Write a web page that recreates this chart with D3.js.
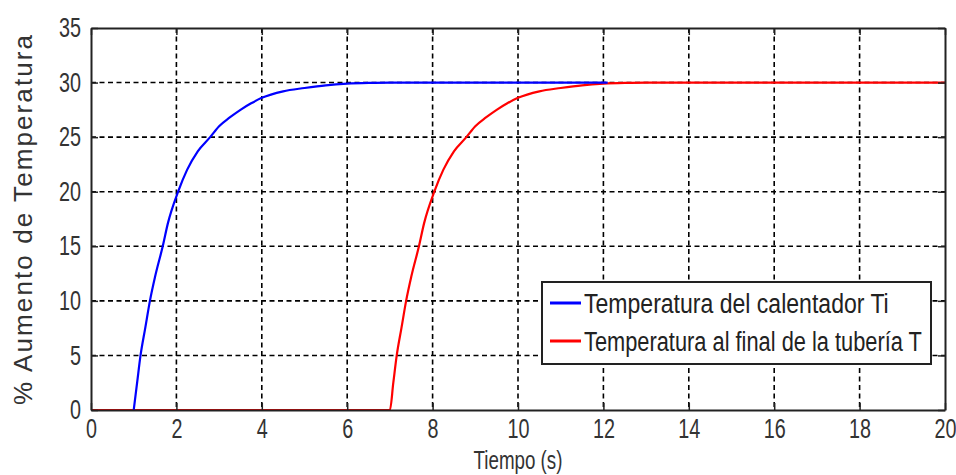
<!DOCTYPE html>
<html>
<head>
<meta charset="utf-8">
<script src="https://cdn.jsdelivr.net/npm/d3@7"></script>
<style>
  body { margin: 0; background: #fff; }
  svg { display: block; }
</style>
</head>
<body>
<div id="chart"></div>
<script>
// Heater temperature (blue) - time in s, % rise
const heaterTime = [1, 1.08, 1.16, 1.27, 1.38, 1.5, 1.68, 1.8, 2.04, 2.25, 2.5, 2.79, 3, 3.25, 3.5, 3.75, 4, 4.5, 5, 5.5, 6, 6.5, 7, 12.1];
const heaterTemp = [0, 2.5, 5, 7.5, 10, 12.2, 15, 17.1, 20, 22, 23.7, 25, 26, 26.8, 27.5, 28.1, 28.6, 29.2, 29.5, 29.75, 29.9, 29.97, 30, 30];

// Pipe outlet temperature (red)
const pipeTime = [0, 7, 7.08, 7.16, 7.27, 7.38, 7.5, 7.68, 7.8, 8.04, 8.25, 8.5, 8.79, 9, 9.25, 9.5, 9.75, 10, 10.5, 11, 11.5, 12, 12.5, 13, 20];
const pipeTemp = [0, 0, 2.5, 5, 7.5, 10, 12.2, 15, 17.1, 20, 22, 23.7, 25, 26, 26.8, 27.5, 28.1, 28.6, 29.2, 29.5, 29.75, 29.9, 29.97, 30, 30];

const xTicks = [0, 2, 4, 6, 8, 10, 12, 14, 16, 18, 20];
const yTicks = [0, 5, 10, 15, 20, 25, 30, 35];

const seriesNames = ['Temperatura del calentador Ti', 'Temperatura al final de la tubería T'];
const seriesColors = ['#0000ff', '#ff0000'];
const legendTextWidths = [305, 338];

const fontNarrow = '"Liberation Sans Narrow", "Arial Narrow", "Liberation Sans", sans-serif';

const W = 956, H = 475;
const margin = { top: 28, right: 11, bottom: 65, left: 91 };
const width = W - margin.left - margin.right;
const height = H - margin.top - margin.bottom;

// squeeze a text horizontally to a target width, around its own x
function squeeze(sel, target) {
    sel.each(function (d) {
        const t = d3.select(this);
        const w = this.getComputedTextLength();
        const want = typeof target === 'function' ? target(d) : target;
        const x0 = +t.attr('x') || 0;
        const s = w > 0 ? want / w : 1;
        t.attr('x', 0).attr('transform', `translate(${x0},0) scale(${s},1)`);
    });
}

const svg = d3.select('#chart').append('svg')
    .attr('width', W)
    .attr('height', H);

const g = svg.append('g')
    .attr('transform', `translate(${margin.left},${margin.top})`);

const x = d3.scaleLinear().domain([0, 20]).range([0, width]);
const y = d3.scaleLinear().domain([0, 35]).range([height, 0]);

// Grid
g.append('g').selectAll('line')
    .data(xTicks.slice(1, -1))
    .join('line')
    .attr('x1', d => x(d)).attr('x2', d => x(d))
    .attr('y1', 0).attr('y2', height)
    .attr('stroke', '#000')
    .attr('stroke-width', 1.6)
    .attr('stroke-dasharray', '5,3.5');

g.append('g').selectAll('line')
    .data(yTicks.slice(1, -1))
    .join('line')
    .attr('x1', 0).attr('x2', width)
    .attr('y1', d => y(d)).attr('y2', d => y(d))
    .attr('stroke', '#000')
    .attr('stroke-width', 1.6)
    .attr('stroke-dasharray', '5,3.5');

// Lines
const line = d3.line()
    .x(d => x(d[0]))
    .y(d => y(d[1]))
    .curve(d3.curveMonotoneX);

const pipeData = pipeTime.map((t, i) => [t, pipeTemp[i]]);
const heaterData = heaterTime.map((t, i) => [t, heaterTemp[i]]);

g.append('path')
    .datum(pipeData)
    .attr('fill', 'none')
    .attr('stroke', seriesColors[1])
    .attr('stroke-width', 2.2)
    .attr('d', line);

g.append('path')
    .datum(heaterData)
    .attr('fill', 'none')
    .attr('stroke', seriesColors[0])
    .attr('stroke-width', 2.2)
    .attr('d', line);

// Axes box and inward ticks
const axisColor = '#222';
const bottomAxis = d3.axisBottom(x).tickValues(xTicks).tickSizeInner(-7).tickSizeOuter(0).tickPadding(9);
const topAxis = d3.axisTop(x).tickValues(xTicks).tickSizeInner(-7).tickSizeOuter(0).tickFormat('');
const leftAxis = d3.axisLeft(y).tickValues(yTicks).tickSizeInner(-7).tickSizeOuter(0).tickPadding(10);
const rightAxis = d3.axisRight(y).tickValues(yTicks).tickSizeInner(-7).tickSizeOuter(0).tickFormat('');

const gx = g.append('g').attr('transform', `translate(0,${height})`).call(bottomAxis);
const gt = g.append('g').call(topAxis);
const gy = g.append('g').call(leftAxis);
const gr = g.append('g').attr('transform', `translate(${width},0)`).call(rightAxis);

[gx, gt, gy, gr].forEach(a => {
    a.select('.domain').attr('stroke', axisColor).attr('stroke-width', 2);
    a.selectAll('.tick line').attr('stroke', axisColor).attr('stroke-width', 1.5);
    a.selectAll('.tick text')
        .attr('font-family', fontNarrow)
        .attr('font-size', 27)
        .attr('fill', '#333');
});
gx.selectAll('.tick text').attr('dy', '0.71em');
squeeze(gx.selectAll('.tick text'), d => String(d).length * 11);
squeeze(gy.selectAll('.tick text'), d => String(d).length * 11);

// Axis labels
svg.append('text')
    .attr('x', margin.left + x(10))
    .attr('y', 469)
    .attr('text-anchor', 'middle')
    .attr('font-family', fontNarrow)
    .attr('font-size', 26)
    .attr('fill', '#333')
    .text('Tiempo (s)')
    .call(squeeze, 89);

svg.append('text')
    .attr('transform', `translate(32, ${(35 + 405) / 2}) rotate(-90)`)
    .attr('text-anchor', 'middle')
    .attr('font-family', '"Liberation Sans", Arial, sans-serif')
    .attr('font-size', 26)
    .attr('fill', '#333')
    .attr('textLength', 370)
    .attr('lengthAdjust', 'spacing')
    .text('% Aumento de Temperatura');

// Legend
const legend = svg.append('g').attr('transform', 'translate(542,282)');
legend.append('rect')
    .attr('width', 389)
    .attr('height', 82)
    .attr('fill', '#fff')
    .attr('stroke', '#222')
    .attr('stroke-width', 2);

seriesNames.forEach((name, i) => {
    const row = legend.append('g').attr('transform', `translate(0,${21 + i * 38})`);
    row.append('line')
        .attr('x1', 8).attr('x2', 39)
        .attr('stroke', seriesColors[i])
        .attr('stroke-width', 3);
    row.append('text')
        .attr('x', 42)
        .attr('y', 10)
        .attr('font-family', fontNarrow)
        .attr('font-size', 28)
        .attr('fill', '#222')
        .text(name)
        .call(squeeze, legendTextWidths[i]);
});
</script>
</body>
</html>
